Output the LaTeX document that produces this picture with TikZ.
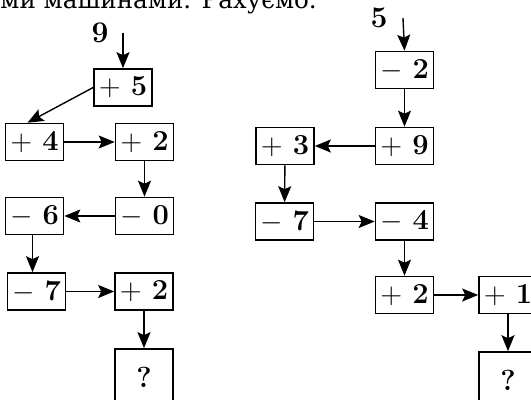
\documentclass[tikz,border=0pt]{standalone}
\usepackage{fontspec}
\newfontfamily\cyrfont{DejaVu Serif}
\usetikzlibrary{arrows.meta}
\begin{document}
\begin{tikzpicture}[x=0.5pt,y=-0.5pt]
\tikzset{
    >={Stealth[length=8pt,width=6.5pt,inset=1.5pt]},
    blok/.style={rectangle, line width=0.8pt, draw=black, inner sep=0pt,
                 minimum width=29pt, minimum height=18.5pt,
                 font=\fontsize{14.5}{17}\selectfont\bfseries},
    pytannya/.style={blok, minimum height=28pt},
    chyslo/.style={inner sep=0pt, font=\fontsize{15}{17}\selectfont\bfseries},
    strilka/.style={->, line width=0.7pt}
}
\useasboundingbox (0,0) rectangle (531,400);
% Rядок тексту, обрізаний зверху
\node[anchor=base west, inner sep=0pt, font=\cyrfont\fontsize{12.3}{15}\selectfont]
     (ryadok) at (0,9) {ми машинами. Рахуємо.};
% Перша машина
\node[chyslo] (p9) at (100,33) {9};
\coordinate (v9) at (123,33);
\node[blok] (a1) at (123,  87.5) {$+$\hspace{0.35em}5};
\node[blok] (a2) at (34.5, 142)  {$+$\hspace{0.35em}4};
\node[blok] (a3) at (144.5,142)  {$+$\hspace{0.35em}2};
\node[blok] (a4) at (144.5,216)  {$-$\hspace{0.35em}0};
\node[blok] (a5) at (34.5, 216)  {$-$\hspace{0.35em}6};
\node[blok] (a6) at (36.5, 291.5) {$-$\hspace{0.35em}7};
\node[blok] (a7) at (144,  291.5) {$+$\hspace{0.35em}2};
\node[pytannya] (a8) at (144, 377) {?};
\draw[strilka] (v9) -- (a1.north);
\draw[strilka] (a1.west) -- (a2.110);
\draw[strilka] (a2) -- (a3);
\draw[strilka] (a3) -- (a4);
\draw[strilka] (a4) -- (a5);
\draw[strilka] ([xshift=-1pt]a5.south) -- ([xshift=-1pt]a5.south |- a6.north);
\draw[strilka] (a6) -- (a7);
\draw[strilka] (a7) -- (a8);
% Друга машина
\node[chyslo] (p5) at (379,18) {5};
\coordinate (v5) at (403,18);
\node[blok] (b1) at (404.5, 70)    {$-$\hspace{0.35em}2};
\node[blok] (b2) at (404.5, 146)   {$+$\hspace{0.35em}9};
\node[blok] (b3) at (285,   146)   {$+$\hspace{0.35em}3};
\node[blok] (b4) at (284.5, 221.5) {$-$\hspace{0.35em}7};
\node[blok] (b5) at (404.5, 221.5) {$-$\hspace{0.35em}4};
\node[blok] (b6) at (404.5, 295)   {$+$\hspace{0.35em}2};
\node[blok] (b7) at (508,   295)   {$+$\hspace{0.35em}1};
\node[pytannya] (b8) at (508, 380) {?};
\draw[strilka] (v5) -- (b1.north);
\draw[strilka] (b1) -- (b2);
\draw[strilka] (b2) -- (b3);
\draw[strilka] (b3) -- (b4);
\draw[strilka] (b4) -- (b5);
\draw[strilka] (b5) -- (b6);
\draw[strilka] (b6) -- (b7);
\draw[strilka] (b7) -- (b8);
\end{tikzpicture}
\end{document}
